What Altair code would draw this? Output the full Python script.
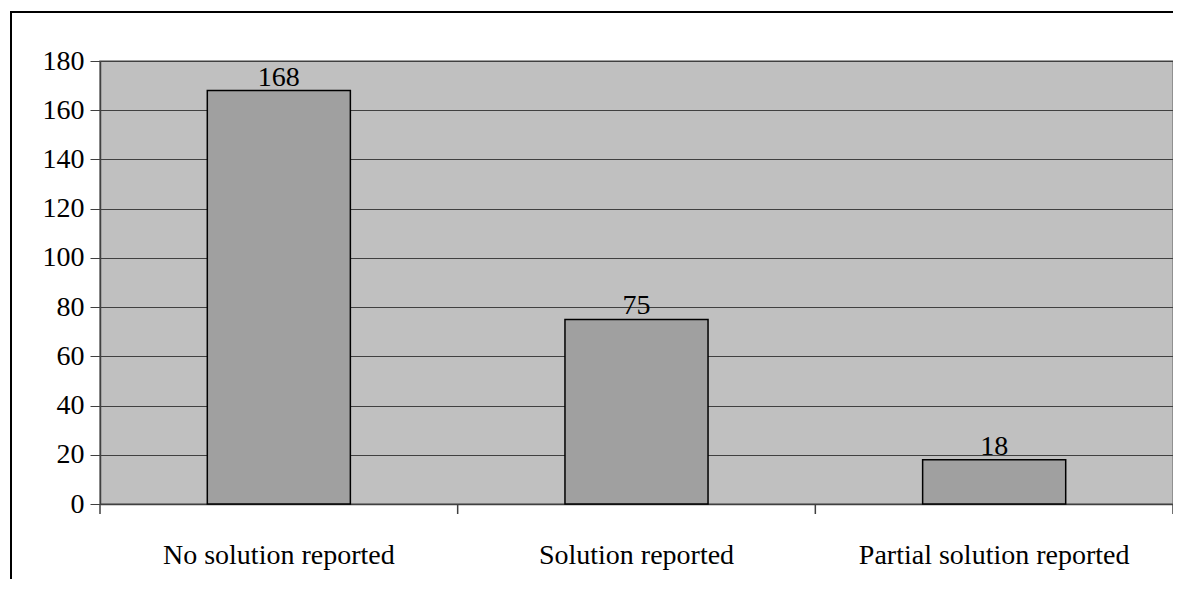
import altair as alt
import pandas as pd

categories = ["No solution reported", "Solution reported", "Partial solution reported"]
values = [168, 75, 18]
y_ticks = [0, 20, 40, 60, 80, 100, 120, 140, 160, 180]
boundaries = [0, 1, 2, 3]

df = pd.DataFrame({"category": categories, "value": values})
bdf = pd.DataFrame({"b": boundaries})

FONT = "Liberation Serif"
W, H = 1073, 443

xscale = alt.Scale(paddingInner=0.6, paddingOuter=0.3)
x = alt.X(
    "category:N", sort=categories, title=None, scale=xscale,
    axis=alt.Axis(labelAngle=0, labelFontSize=28, labelFont=FONT, labelColor="black",
                  labelBaseline="alphabetic", labelPadding=59, labelLimit=0, ticks=False,
                  domainColor="#404040", domainWidth=1.5, grid=False),
)
y = alt.Y(
    "value:Q", title=None,
    scale=alt.Scale(domain=[0, 180], nice=False),
    axis=alt.Axis(values=y_ticks, labelFontSize=28, labelFont=FONT, labelColor="black",
                  tickSize=10, labelPadding=6, tickColor="#404040", domainColor="#404040",
                  domainWidth=1.5, gridColor="#404040", gridWidth=1),
)

bars = alt.Chart(df).mark_bar(fill="#A0A0A0", stroke="black", strokeWidth=1.5).encode(x=x, y=y)
labels = alt.Chart(df).mark_text(baseline="alphabetic", dy=-5, font=FONT, fontSize=28,
                                 color="black").encode(
    x=alt.X("category:N", sort=categories, scale=xscale, axis=None),
    y=alt.Y("value:Q", scale=alt.Scale(domain=[0, 180], nice=False)),
    text="value:Q",
)
xticks = alt.Chart(bdf).mark_rule(color="#404040", strokeWidth=1.5).encode(
    x=alt.X("b:Q", scale=alt.Scale(domain=[0, 3], nice=False, zero=False), axis=None),
    y=alt.value(H), y2=alt.value(H + 10),
)
frame = alt.Chart(pd.DataFrame({"a": [0]})).mark_rect(
    filled=False, stroke="black", strokeWidth=2
).encode(x=alt.value(-89), x2=alt.value(W + 200), y=alt.value(-49), y2=alt.value(H + 200))

chart = alt.layer(frame, bars, labels, xticks).resolve_scale(x="independent").properties(
    width=W, height=H,
    padding={"left": 92, "top": 53, "right": 0, "bottom": 75},
    autosize="none",
    background="white",
).configure_view(
    fill="#C0C0C0", stroke="#808080", strokeWidth=1.5
)

chart.save("out.html", embed_options={"renderer": "svg", "actions": False})
